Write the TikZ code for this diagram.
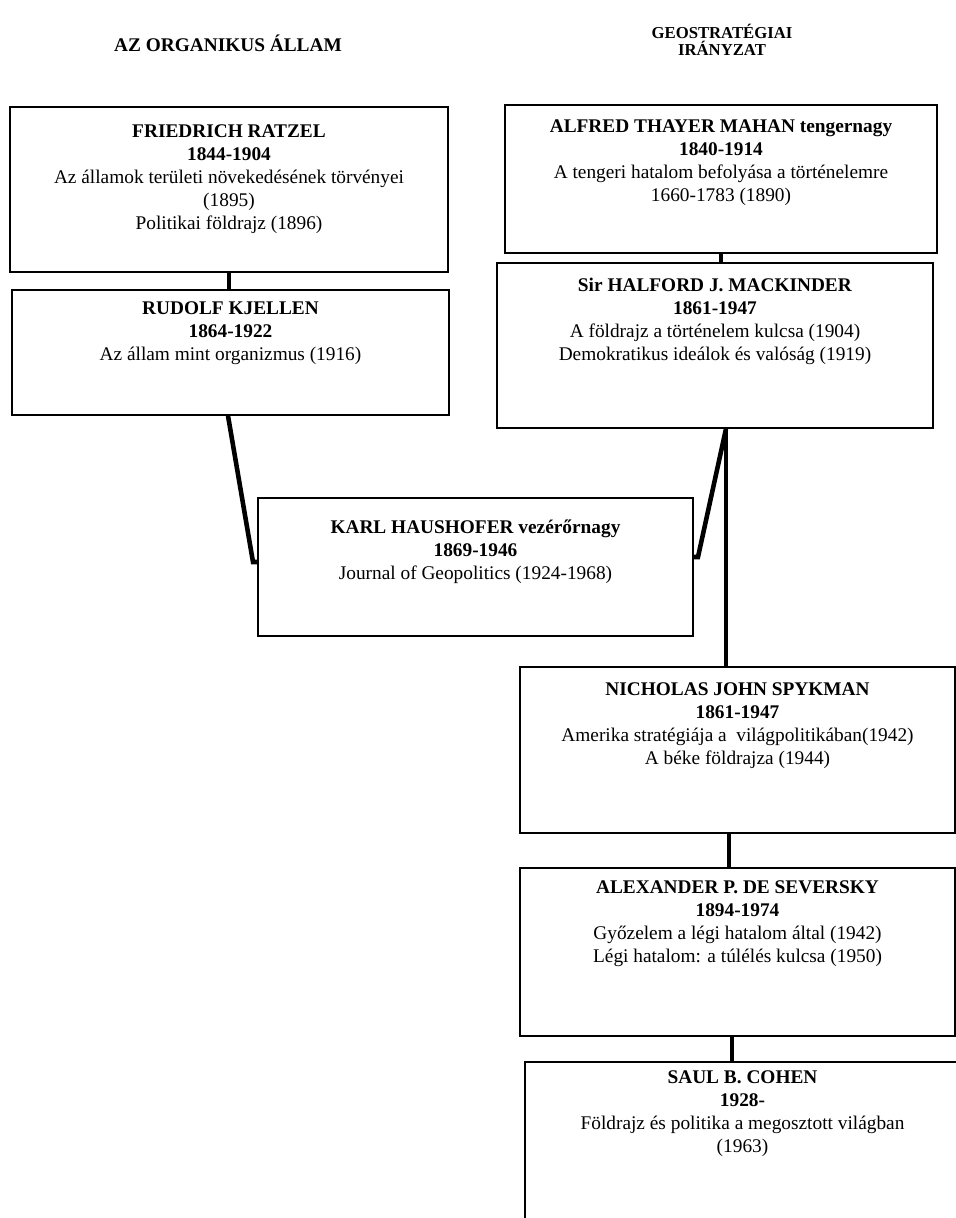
\documentclass[tikz,border=0pt]{standalone}
\usepackage{fontspec}
\setmainfont{Liberation Serif}
\usetikzlibrary{positioning}

\tikzset{
	box/.style = {draw, line width = 0.9pt, inner sep = 0pt},
	txt/.style = {align = center, inner sep = 0pt, font = \fontsize{11}{13.1}\selectfont},
	head/.style = {align = center, inner sep = 0pt, font = \bfseries},
	link/.style = {line width = 2.6pt}
}

\begin{document}
\begin{tikzpicture}
	\useasboundingbox (0,0) rectangle (19.12,24.36);
	
	% headings
	\node [head, font = \fontsize{11}{13}\selectfont\bfseries] (orghead) at (4.56,23.5) {AZ ORGANIKUS ÁLLAM};
	\node [head, font = \fontsize{9.5}{10}\selectfont\bfseries] (geohead) at (14.44,23.56) {GEOSTRATÉGIAI\\IRÁNYZAT};
	
	% left column
	\node [box, minimum width = 8.76cm, minimum height = 3.3cm] (ratzel) at (4.58,20.57) {};
	\node [txt, below = 0.37cm of ratzel.north] (ratzel-t) {\textbf{FRIEDRICH RATZEL}\\\textbf{1844-1904}\\Az államok területi növekedésének törvényei\\(1895)\\Politikai földrajz (1896)};
	
	\node [box, minimum width = 8.74cm, minimum height = 2.5cm] (kjellen) at (4.61,17.31) {};
	\node [txt, below = 0.25cm of kjellen.north] (kjellen-t) {\textbf{RUDOLF KJELLEN}\\\textbf{1864-1922}\\Az állam mint organizmus (1916)};
	
	% right column
	\node [box, minimum width = 8.64cm, minimum height = 2.96cm] (mahan) at (14.42,20.78) {};
	\node [txt, below = 0.31cm of mahan.north] (mahan-t) {\textbf{ALFRED THAYER MAHAN tengernagy}\\\textbf{1840-1914}\\A tengeri hatalom befolyása a történelemre\\1660-1783 (1890)};
	
	\node [box, minimum width = 8.72cm, minimum height = 3.3cm] (mackinder) at (14.3,17.45) {};
	\node [txt, below = 0.31cm of mackinder.north] (mackinder-t) {\textbf{Sir HALFORD J. MACKINDER}\\\textbf{1861-1947}\\A földrajz a történelem kulcsa (1904)\\Demokratikus ideálok és valóság (1919)};
	
	% middle
	\node [box, minimum width = 8.7cm, minimum height = 2.76cm] (haushofer) at (9.51,13.02) {};
	\node [txt, below = 0.45cm of haushofer.north] (haushofer-t) {\textbf{KARL HAUSHOFER vezérőrnagy}\\\textbf{1869-1946}\\Journal of Geopolitics (1924-1968)};
	
	% lower right
	\node [box, minimum width = 8.7cm, minimum height = 3.32cm] (spykman) at (14.75,9.36) {};
	\node [txt, below = 0.33cm of spykman.north] (spykman-t) {\textbf{NICHOLAS JOHN SPYKMAN}\\\textbf{1861-1947}\\Amerika stratégiája a\ \ világpolitikában(1942)\\A béke földrajza (1944)};
	
	\node [box, minimum width = 8.7cm, minimum height = 3.36cm] (seversky) at (14.75,5.32) {};
	\node [txt, below = 0.27cm of seversky.north] (seversky-t) {\textbf{ALEXANDER P. DE SEVERSKY}\\\textbf{1894-1974}\\Győzelem a légi hatalom által (1942)\\Légi hatalom: a túlélés kulcsa (1950)};
	
	\node [box, minimum width = 8.7cm, minimum height = 3.76cm] (cohen) at (14.85,1.24) {};
	\node [txt, below = 0.19cm of cohen.north] (cohen-t) {\textbf{SAUL B. COHEN}\\\textbf{1928-}\\Földrajz és politika a megosztott világban\\(1963)};
	
	% connectors
	\coordinate (spine) at (14.52,0);
	\coordinate (lbend) at (5.06,13.12);
	\coordinate (rbend) at (13.96,13.22);
	
	\draw [link] (ratzel.south) -- (ratzel.south |- kjellen.north);
	\draw [link] (mahan.south) -- (mahan.south |- mackinder.north);
	\draw [link] ([xshift=-0.05cm]kjellen.south) -- (lbend) -- (lbend -| haushofer.west);
	\draw [link] (spine |- mackinder.south) -- (rbend) -- (rbend -| haushofer.east);
	\draw [link] (spine |- mackinder.south) -- (spine |- spykman.north);
	\draw [link] ([xshift=-0.17cm]spykman.south) -- ([xshift=-0.17cm]spykman.south |- seversky.north);
	\draw [link] ([xshift=-0.11cm]seversky.south) -- ([xshift=-0.11cm]seversky.south |- cohen.north);
	
\end{tikzpicture}
\end{document}
